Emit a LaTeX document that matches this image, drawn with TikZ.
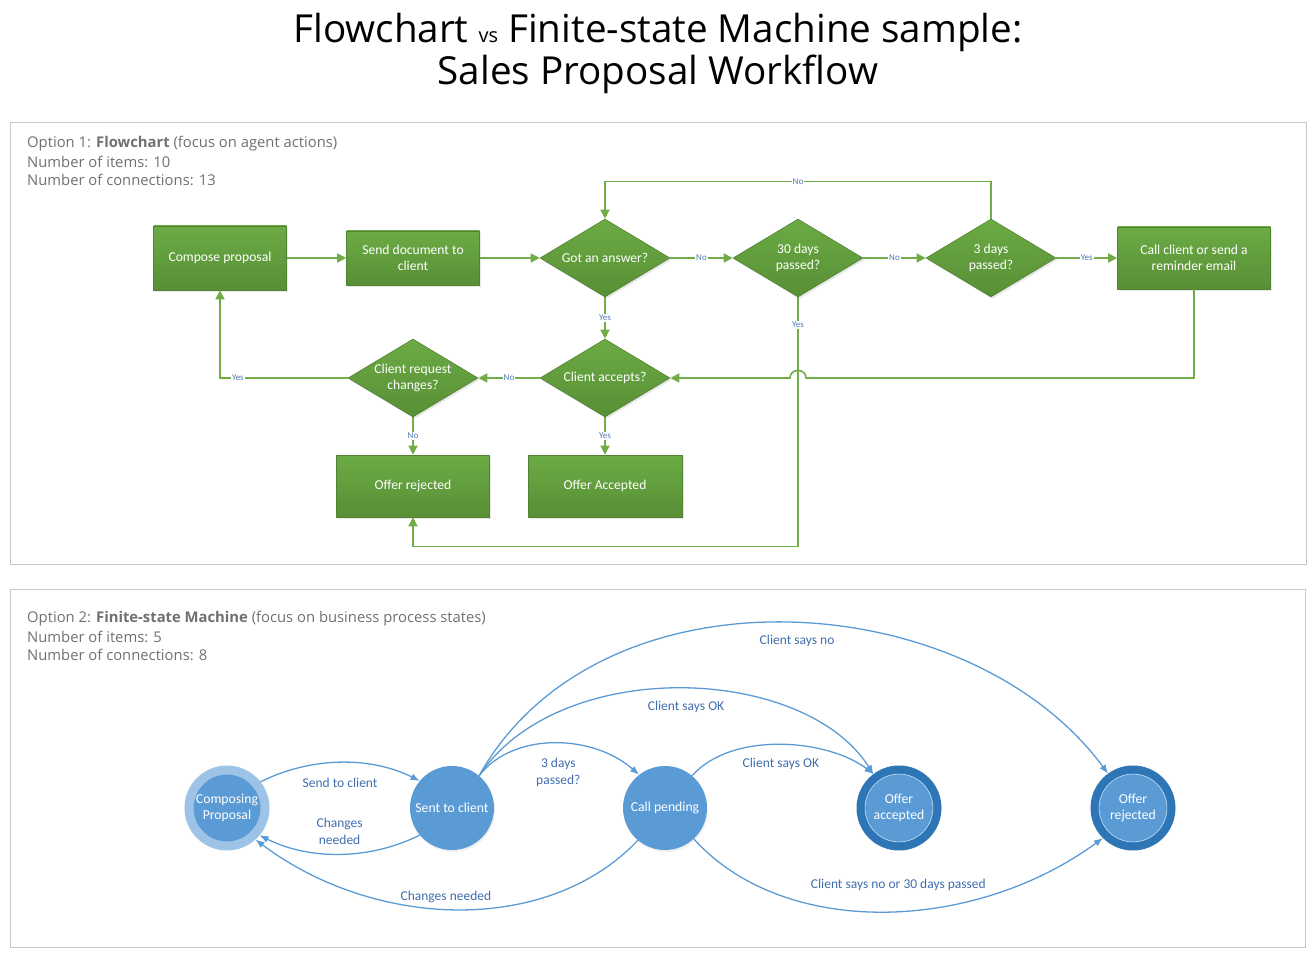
\documentclass[tikz,border=0pt]{standalone}
\usepackage{fontspec}
\setmainfont{Carlito}
\newfontfamily\uifont{Open Sans}
\usetikzlibrary{shapes.geometric,arrows.meta,calc,shadows}
\definecolor{flowgreen}{HTML}{70AD47}
\definecolor{boxtop}{HTML}{6BAB44}
\definecolor{boxbot}{HTML}{588F36}
\definecolor{boxline}{HTML}{548235}
\definecolor{lblblue}{HTML}{5079B4}
\definecolor{statefill}{HTML}{5B9BD5}
\definecolor{startring}{HTML}{9DC3E6}
\definecolor{finalring}{HTML}{2E75B6}
\definecolor{fsmtext}{HTML}{3F6DAE}
\definecolor{panelgray}{HTML}{C8C8C8}
\definecolor{headgray}{HTML}{707070}

\begin{document}
\begin{tikzpicture}[x=1pt,y=-1pt,
  panel/.style={draw=panelgray, line width=1pt},
  head/.style={anchor=west, inner sep=0pt, text=headgray, font=\uifont\fontsize{14.8}{18}\selectfont},
  greenshape/.style={draw=boxline, line width=0.6pt, top color=boxtop, bottom color=boxbot,
    text=white, align=center, inner sep=0pt, font=\fontsize{13.6}{16}\selectfont,
    drop shadow={opacity=0.18, shadow xshift=1.5pt, shadow yshift=-2pt}},
  actionbox/.style={greenshape, rectangle, minimum width=133pt, minimum height=#1},
  actionbox/.default=62pt,
  decision/.style={greenshape, diamond, shape aspect=1.667, minimum width=130pt, minimum height=78pt},
  flow/.style={draw=flowgreen, line width=1.6pt, -{Triangle[length=9pt,width=9pt]}},
  flowlbl/.style={fill=white, inner sep=1pt, text=lblblue, font=\fontsize{9}{10}\selectfont},
  state/.style={circle, fill=statefill, text=white, align=center, inner sep=0pt,
    minimum size=84pt, font=\fontsize{13.7}{16}\selectfont,
    drop shadow={opacity=0.12, shadow xshift=1pt, shadow yshift=-2pt}},
  startstate/.style={state, draw=startring, line width=9pt, minimum size=76pt},
  finalstate/.style={state, draw=finalring, line width=8pt, minimum size=77pt,
    path picture={\draw[startring!60!white, line width=0.7pt]
      (path picture bounding box.center) circle (34pt);}},
  fsm/.style={draw=statefill, line width=1.3pt, -{Latex[length=9pt,width=7pt]}},
  fsmlbl/.style={inner sep=0pt, text=fsmtext, align=center, font=\fontsize{13.5}{17}\selectfont},
]
\useasboundingbox (0,0) rectangle (1312,957);

% title
\node[align=center, font=\uifont\fontsize{38.6}{42}\selectfont] (title) at (658,53)
  {Flowchart {\fontsize{20}{20}\selectfont vs} Finite-state Machine sample:\\Sales Proposal Workflow};

% option 1: flowchart
\draw[panel] (10,123) rectangle (1306,564);
\node[head] (opt1) at (27,144) {Option 1: \textbf{Flowchart} (focus on agent actions)};
\node[head] (items1) at (27,162) {Number of items: 10};
\node[head] (conn1) at (27,180) {Number of connections: 13};

\node[actionbox=64pt] (compose) at (220,258) {Compose proposal};
\node[actionbox=54pt] (senddoc) at (413,258) {Send document to\\client};
\node[decision] (answer) at (605,258) {Got an answer?};
\node[decision] (thirty) at (798,258) {30 days\\passed?};
\node[decision] (three) at (991,258) {3 days\\passed?};
\node[actionbox, minimum width=153pt] (callclient) at (1194,258) {Call client or send a\\reminder email};
\node[decision] (changes) at (413,378) {Client request\\changes?};
\node[decision] (accepts) at (605,378) {Client accepts?};
\node[actionbox, minimum width=153pt] (rejected) at (413,486) {Offer rejected};
\node[actionbox, minimum width=154pt] (accepted) at (605,486) {Offer Accepted};

\draw[flow] (compose) -- (senddoc);
\draw[flow] (senddoc) -- (answer);
\draw[flow] (answer) -- node[flowlbl]{No} (thirty);
\draw[flow] (thirty) -- node[flowlbl]{No} (three);
\draw[flow] (three) -- node[flowlbl]{Yes} (callclient);
\draw[flow] (three.north) -- ++(0,-37) -| node[flowlbl,pos=0.25]{No} (answer.north);
\draw[flow] (answer) -- node[flowlbl]{Yes} (accepts);
\draw[flow] (callclient.south) |- ([xshift=8pt]thirty.south |- accepts.east)
  .. controls +(0,-10) and +(0,-10) .. ([xshift=-8pt]thirty.south |- accepts.east) -- (accepts.east);
\draw[flow] (thirty.south) -- node[flowlbl,pos=0.11]{Yes} ++(0,249) -| (rejected.south);
\draw[flow] (accepts) -- node[flowlbl]{No} (changes);
\draw[flow] (changes.west) -| node[flowlbl,pos=0.43]{Yes} (compose.south);
\draw[flow] (changes) -- node[flowlbl]{No} (rejected);
\draw[flow] (accepts) -- node[flowlbl]{Yes} (accepted);

% option 2: finite-state machine
\draw[panel] (10,589) rectangle (1305,947);
\node[head] (opt2) at (27,619) {Option 2: \textbf{Finite-state Machine} (focus on business process states)};
\node[head] (items2) at (27,637) {Number of items: 5};
\node[head] (conn2) at (27,655) {Number of connections: 8};

\node[startstate] (composing) at (227,808) {Composing\\Proposal};
\node[state] (sentclient) at (452,808) {Sent to client};
\node[state] (callpending) at (665,808) {Call pending};
\node[finalstate] (offeracc) at (899,808) {Offer\\accepted};
\node[finalstate] (offerrej) at (1133,808) {Offer\\rejected};

\draw[fsm] (composing.38) .. controls +(50,-25) and +(-50,-25) .. (sentclient.140)
  node[fsmlbl,pos=0.5,yshift=-20pt]{Send to client};
\draw[fsm] (sentclient.220) .. controls +(-50,25) and +(50,25) .. (composing.320)
  node[fsmlbl,pos=0.5,yshift=23pt]{Changes\\needed};
\draw[fsm] (sentclient.50) .. controls +(35,-45) and +(-45,-40) .. (callpending.128)
  node[fsmlbl,pos=0.5,yshift=-29pt,xshift=3pt]{3 days\\passed?};
\draw[fsm] (callpending.230) .. controls +(-90,95) and +(120,90) .. (composing.312)
  node[fsmlbl,pos=0.5,yshift=12pt,xshift=-12pt]{Changes needed};
\draw[fsm] (callpending.50) .. controls +(40,-45) and +(-45,-35) .. (offeracc.127)
  node[fsmlbl,pos=0.5,yshift=-19pt]{Client says OK};
\draw[fsm] (sentclient.50) .. controls +(80,-120) and +(-70,-110) .. (offeracc.127)
  node[fsmlbl,pos=0.5,yshift=-18pt,xshift=6pt]{Client says OK};
\draw[fsm] (sentclient.50) .. controls +(120,-215) and +(-140,-190) .. (offerrej.126)
  node[fsmlbl,pos=0.5,yshift=-18pt,xshift=11pt]{Client says no};
\draw[fsm] (callpending.313) .. controls +(90,100) and +(-130,95) .. (offerrej.225)
  node[fsmlbl,pos=0.5,yshift=27pt,xshift=15pt]{Client says no or 30 days passed};
\end{tikzpicture}
\end{document}
